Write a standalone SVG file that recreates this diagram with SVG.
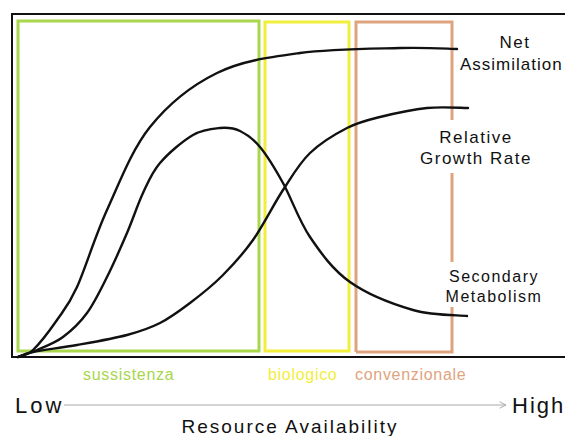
<svg xmlns="http://www.w3.org/2000/svg" width="565" height="436" viewBox="0 0 565 436">
<defs>
<style>
.frame{fill:none;stroke:#111;stroke-width:2}
.curve{fill:none;stroke:#111;stroke-width:2.4;stroke-linecap:round}
.lbl{font-family:"Liberation Sans",Arial,sans-serif;fill:#111}
.zone{font-family:"Liberation Sans",Arial,sans-serif;font-size:16px;letter-spacing:0.7px}
</style>
<marker id="arr" viewBox="0 0 10 10" refX="9" refY="5" markerWidth="8" markerHeight="8" orient="auto" markerUnits="userSpaceOnUse">
<path d="M1,1 L9,5 L1,9" fill="none" stroke="#aaa" stroke-width="1.2"/>
</marker>
</defs>
<rect width="565" height="436" fill="#fff"/>
<g id="frame">
<path class="frame" d="M565,14 H12 V357 H565"/>
</g>
<g id="sussistenza">
<rect x="18" y="21" width="241" height="330" fill="none" stroke="#a8d64c" stroke-width="3"/>
<text class="zone" x="83" y="380" fill="#a8d64c">sussistenza</text>
</g>
<g id="biologico">
<rect x="265" y="22" width="84" height="329" fill="none" stroke="#f2ee3c" stroke-width="3"/>
<text class="zone" x="268" y="380" fill="#f2ee3c">biologico</text>
</g>
<g id="convenzionale">
<path d="M356,352 V22 H452 V120 M452,173 V262 M452,307 V352 H356" fill="none" stroke="#dea47e" stroke-width="3"/>
<text class="zone" x="355" y="380" fill="#dea47e">convenzionale</text>
</g>
<g id="connectors">
<path id="net" class="curve" d="M18,357 C20.5,355.8 26.5,356.2 33,350 C39.5,343.8 49.7,330.5 57,320 C64.3,309.5 68.7,305.3 77,287 C85.3,268.7 94.8,236.7 107,210 C119.2,183.3 131.7,149.8 150,127 C168.3,104.2 192,85.3 217,73 C242,60.7 269.5,57.2 300,53 C330.5,48.8 373.8,48.7 400,48 C426.2,47.3 447.5,48.8 457,49"/>
<path id="rgr" class="curve" d="M18,357 C20.5,356.2 23.2,354 33,352 C42.8,350 61.3,347.8 77,345 C92.7,342.2 113.2,338.7 127,335 C140.8,331.3 149.5,328.3 160,323 C170.5,317.7 179.7,310.8 190,303 C200.3,295.2 211.5,286.5 222,276 C232.5,265.5 242.8,254.3 253,240 C263.2,225.7 273.5,204.5 283,190 C292.5,175.5 299.3,163.3 310,153 C320.7,142.7 335.3,134 347,128 C358.7,122 366.7,120.3 380,117 C393.3,113.7 412.3,109.5 427,108 C441.7,106.5 461.2,108 468,108"/>
<path id="sec" class="curve" d="M18,357 C21.2,355.8 29.5,353.3 37,350 C44.5,346.7 54.7,343.2 63,337 C71.3,330.8 79.7,323 87,313 C94.3,303 100.3,290.3 107,277 C113.7,263.7 121,247 127,233 C133,219 137.5,204.7 143,193 C148.5,181.3 151.7,172.7 160,163 C168.3,153.3 183,140.8 193,135 C203,129.2 212.2,128.7 220,128 C227.8,127.3 233.3,127.8 240,131 C246.7,134.2 252.8,138.3 260,147 C267.2,155.7 274.7,168 283,183 C291.3,198 298.8,220.5 310,237 C321.2,253.5 332.8,269.8 350,282 C367.2,294.2 393.5,304.3 413,310 C432.5,315.7 458,315 467,316"/>
<path id="axis" d="M64,405 H506" stroke="#aaa" stroke-width="1.2" fill="none" marker-end="url(#arr)"/>
</g>
<g id="net-label">
<text class="lbl" font-size="17" letter-spacing="1.5" x="515" y="48" text-anchor="middle">Net</text>
<text class="lbl" font-size="17" letter-spacing="1" x="460" y="70">Assimilation</text>
</g>
<g id="rgr-label">
<text class="lbl" font-size="17" letter-spacing="1.5" x="476" y="143" text-anchor="middle">Relative</text>
<text class="lbl" font-size="17" letter-spacing="1.5" x="476" y="164" text-anchor="middle">Growth Rate</text>
</g>
<g id="sec-label">
<text class="lbl" font-size="16" letter-spacing="1.5" x="494" y="282" text-anchor="middle">Secondary</text>
<text class="lbl" font-size="16" letter-spacing="1.5" x="494" y="302" text-anchor="middle">Metabolism</text>
</g>
<g id="axis-labels">
<text class="lbl" font-size="22" letter-spacing="3" x="15" y="413">Low</text>
<text class="lbl" font-size="22" letter-spacing="2" x="512" y="413">High</text>
<text class="lbl" font-size="19" letter-spacing="2" x="290" y="433" text-anchor="middle">Resource Availability</text>
</g>
</svg>
